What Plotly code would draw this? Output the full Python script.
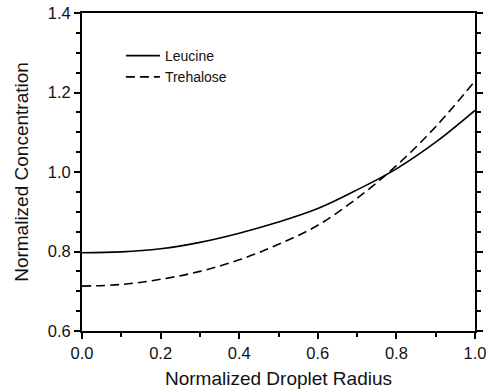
import plotly.graph_objects as go

radius = [0.0, 0.1, 0.2, 0.3, 0.4, 0.5, 0.6, 0.7, 0.8, 0.9, 1.0]
leucine = [0.797, 0.799, 0.807, 0.823, 0.846, 0.874, 0.908, 0.955, 1.008, 1.075, 1.155]
trehalose = [0.713, 0.717, 0.730, 0.750, 0.779, 0.818, 0.866, 0.934, 1.016, 1.114, 1.229]

x_ticks = [0, 0.2, 0.4, 0.6, 0.8, 1.0]
x_labels = ["0.0", "0.2", "0.4", "0.6", "0.8", "1.0"]
y_ticks = [0.6, 0.8, 1.0, 1.2, 1.4]
y_labels = ["0.6", "0.8", "1.0", "1.2", "1.4"]

font = "Liberation Sans, Arial, sans-serif"

fig = go.Figure()
fig.add_trace(go.Scatter(x=radius, y=leucine, mode="lines", name="Leucine",
                         line=dict(color="black", width=1.6, shape="spline")))
fig.add_trace(go.Scatter(x=radius, y=trehalose, mode="lines", name="Trehalose",
                         line=dict(color="black", width=1.6, shape="spline", dash="9px,5px")))

fig.update_layout(
    width=486, height=392,
    margin=dict(l=82, r=11, t=13, b=61),
    plot_bgcolor="white", paper_bgcolor="white",
    font=dict(family=font, size=16.5, color="#111"),
    showlegend=True,
    legend=dict(x=0.099, y=0.915, xanchor="left", yanchor="top",
                bgcolor="rgba(0,0,0,0)", font=dict(size=14),
                tracegroupgap=0, itemwidth=34),
    xaxis=dict(range=[0, 1.0], tickvals=x_ticks, ticktext=x_labels, automargin=False,
               ticklabeloverflow="allow",
               showgrid=False, zeroline=False, showline=True, linecolor="black",
               linewidth=2, mirror=True, ticks="outside", ticklen=6, tickwidth=2,
               tickcolor="black",
               minor=dict(dtick=0.1, ticks="outside", ticklen=4, tickwidth=2,
                          tickcolor="black", showgrid=False),
               title=dict(text="Normalized Droplet Radius", font=dict(size=19), standoff=11)),
    yaxis=dict(range=[0.6, 1.4], tickvals=y_ticks, ticktext=y_labels, automargin=False,
               showgrid=False, zeroline=False, showline=True, linecolor="black",
               linewidth=2, mirror="ticks", ticks="outside", ticklen=6, tickwidth=2,
               tickcolor="black",
               minor=dict(dtick=0.05, ticks="outside", ticklen=4, tickwidth=2,
                          tickcolor="black", showgrid=False),
               title=dict(text="Normalized Concentration", font=dict(size=19), standoff=14)),
)

fig.write_html("out.html")
